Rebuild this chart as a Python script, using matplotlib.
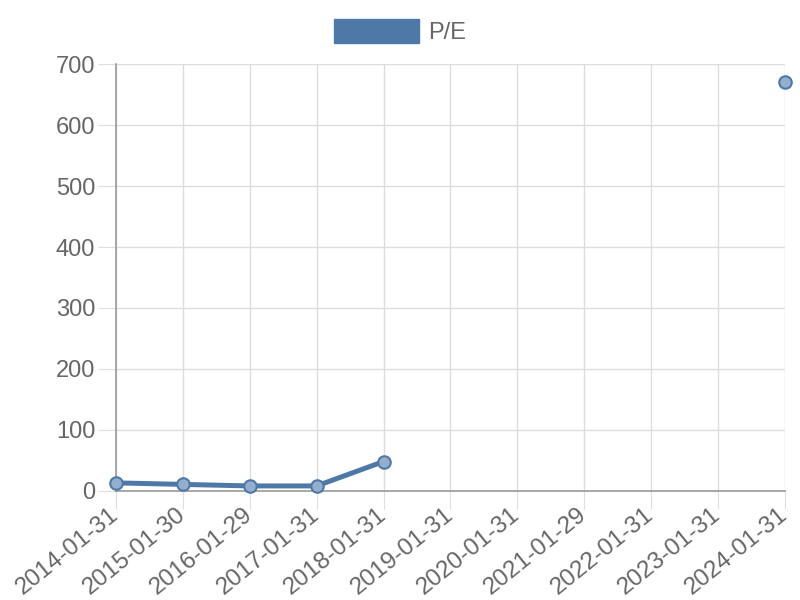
import numpy as np
import matplotlib
matplotlib.use("Agg")
import matplotlib.pyplot as plt
from matplotlib.patches import Patch

plt.rcParams['font.family'] = ['Liberation Sans', 'DejaVu Sans']

# data
dates = ['2014-01-31', '2015-01-30', '2016-01-29', '2017-01-31', '2018-01-31',
         '2019-01-31', '2020-01-31', '2021-01-29', '2022-01-31', '2023-01-31',
         '2024-01-31']
pe = [13, 10.5, 8, 8, 48, np.nan, np.nan, np.nan, np.nan, np.nan, 670]
series_name = 'P/E'

line_col = '#4e79a7'
point_fill = '#94aece'
text_col = '#666666'
grid_col = '#dddddd'
axis_col = '#999999'

fig = plt.figure(figsize=(8, 6), dpi=100)
ax = fig.add_axes([0.145, 0.182, 0.836, 0.711])

x = np.arange(len(dates))
ax.plot(x, pe, color=line_col, lw=3.6, solid_capstyle='round', zorder=3)
ax.plot(x, pe, ls='none', marker='o', ms=9, mfc=point_fill, mec=line_col,
        mew=1.5, zorder=4, clip_on=False)

ax.set_xlim(0, len(dates) - 1)
ax.set_ylim(0, 700)
ax.set_yticks(np.arange(0, 701, 100))
ax.set_xticks(x)
ax.set_xticklabels(dates, rotation=39, ha='right', va='center',
                   rotation_mode='anchor')

ax.grid(True, color=grid_col, lw=1)
ax.set_axisbelow(True)
for s in ['top', 'right']:
    ax.spines[s].set_visible(False)
for s in ['left', 'bottom']:
    ax.spines[s].set_color(axis_col)
    ax.spines[s].set_linewidth(1.2)

ax.tick_params(axis='both', colors=grid_col, labelcolor=text_col, length=13,
               labelsize=17)
ax.tick_params(axis='y', pad=2)
ax.tick_params(axis='x', pad=2, labelsize=17.5)

handle = Patch(facecolor=line_col, edgecolor=line_col, label=series_name)
fig.legend(handles=[handle], loc='center', bbox_to_anchor=(0.5, 0.948),
           frameon=False, fontsize=17, handlelength=3.6, handleheight=1.2,
           labelcolor=text_col, handletextpad=0.4)

fig.savefig('out.png', dpi=100)
